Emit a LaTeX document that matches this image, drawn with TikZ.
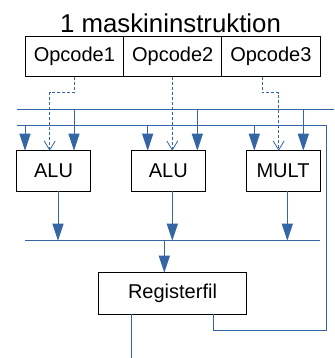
\documentclass[tikz,border=0pt]{standalone}
\usepackage{fontspec}
\setmainfont{Liberation Sans}
\usetikzlibrary{arrows.meta}
\definecolor{ln}{HTML}{3465A4}
\begin{document}
\begin{tikzpicture}[x=1pt,y=-1pt,
  box/.style={draw=black,line width=0.9pt,inner sep=0pt,outer sep=0pt,fill=white,font=\fontsize{20}{24}\selectfont},
  bus/.style={draw=ln,line width=1pt},
  arr/.style={draw=ln,line width=1pt,-{Triangle[width=11pt,length=17pt]}},
  dsh/.style={draw=ln,line width=1pt,dash pattern=on 3pt off 2pt,-{Straight Barb[width=11pt,length=9pt,line width=0.8pt]}}]
\useasboundingbox (0,0) rectangle (334,358);
\node[anchor=base,font=\fontsize{25.8}{30}\selectfont,inner sep=0pt] (title) at (170.5,32.3) {1 maskininstruktion};
\node[box,minimum width=98.7pt,minimum height=40.7pt] (op1) at (74.35,56.35) {Opcode1};
\node[box,minimum width=98pt,minimum height=40.7pt] (op2) at (172.7,56.35) {Opcode2};
\node[box,minimum width=98.3pt,minimum height=40.7pt] (op3) at (270.85,56.35) {Opcode3};
\node[box,minimum width=73.6pt,minimum height=40.3pt] (alu1) at (53.5,170.85) {ALU};
\node[box,minimum width=73.3pt,minimum height=40.3pt] (alu2) at (168.35,170.85) {ALU};
\node[box,minimum width=74pt,minimum height=40.3pt] (mult) at (283,170.85) {MULT};
\node[box,minimum width=148.4pt,minimum height=41.6pt] (reg) at (172.5,293.5) {Registerfil};
% bus coordinates
\coordinate (b1L) at (17.3,109.3);
\coordinate (b1R) at (334,109.3);
\coordinate (b2L) at (17.3,125.7);
\coordinate (b2R) at (326.7,125.7);
\coordinate (fbB) at (326.7,330);
\coordinate (fbL) at (213.3,330);
\coordinate (rbL) at (25,240.7);
\coordinate (rbR) at (320,240.7);
\coordinate (out) at (131.7,358);
% x positions
\coordinate (xa1) at (25,0);
\coordinate (xb1) at (74,0);
\coordinate (xa2) at (147.7,0);
\coordinate (xb2) at (197.3,0);
\coordinate (xa3) at (254.3,0);
\coordinate (xb3) at (303.3,0);
\coordinate (xo1) at (58,0);
\coordinate (xo2) at (172.3,0);
\coordinate (xo3) at (287.3,0);
\coordinate (xr) at (164.3,0);
% dashed control lines
\coordinate (d1a) at (74,93);
\coordinate (d1b) at (49.7,93);
\coordinate (d2) at (172.3,93);
\coordinate (d3a) at (262.3,93);
\coordinate (d3b) at (278.7,93);
% buses
\draw[bus] (b1L) -- (b1R);
\draw[bus] (b2L) -- (b2R) -- (fbB) -- (fbL) -- (reg.south -| fbL);
\draw[bus] (rbL) -- (rbR);
% input arrows
\draw[arr] (b2L -| xa1) -- (alu1.north -| xa1);
\draw[arr] (b1L -| xb1) -- (alu1.north -| xb1);
\draw[arr] (b2L -| xa2) -- (alu2.north -| xa2);
\draw[arr] (b1L -| xb2) -- (alu2.north -| xb2);
\draw[arr] (b2L -| xa3) -- (mult.north -| xa3);
\draw[arr] (b1L -| xb3) -- (mult.north -| xb3);
% output arrows
\draw[arr] (alu1.south -| xo1) -- (rbL -| xo1);
\draw[arr] (alu2.south -| xo2) -- (rbL -| xo2);
\draw[arr] (mult.south -| xo3) -- (rbL -| xo3);
\draw[arr] (rbL -| xr) -- (reg.north -| xr);
\draw[bus] (reg.south -| out) -- (out);
% control
\draw[dsh] (op1.south -| d1a) -- (d1a) -- (d1b) -- (alu1.north -| d1b);
\draw[dsh] (op2.south -| d2) -- (alu2.north -| d2);
\draw[dsh] (op3.south -| d3a) -- (d3a) -- (d3b) -- (mult.north -| d3b);
\end{tikzpicture}
\end{document}
